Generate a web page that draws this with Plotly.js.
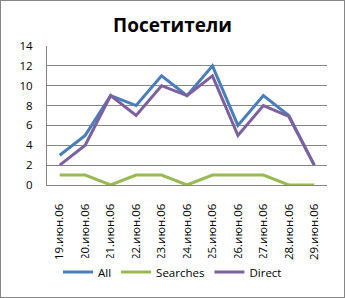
<!DOCTYPE html>
<html><head><meta charset="utf-8">
<script src="https://cdn.plot.ly/plotly-3.0.1.min.js"></script>
<style>
html,body{margin:0;padding:0;background:#fff;}
#frame{position:absolute;left:0;top:0;width:345px;height:298px;box-sizing:border-box;border:1px solid #868686;}
#chart{position:absolute;left:0;top:0;width:345px;height:298px;}
</style></head>
<body>
<div id="chart"></div><div id="frame"></div>
<script>
const categories = ["19.июн.06","20.июн.06","21.июн.06","22.июн.06","23.июн.06","24.июн.06","25.июн.06","26.июн.06","27.июн.06","28.июн.06","29.июн.06"];
const allVisits = [3,5,9,8,11,9,12,6,9,7,2];
const searches = [1,1,0,1,1,0,1,1,1,0,0];
const direct = [2,4,9,7,10,9,11,5,8,6.9,2];
const yTicks = [0,2,4,6,8,10,12,14];

const mk = (name, y, color) => ({type:'scatter', mode:'lines', name, x:categories, y, line:{color, width:3}});
const data = [
  mk('All', allVisits, '#4A7EBB'),
  mk('Searches', searches, '#98B954'),
  mk('Direct', direct, '#7D60A0')
];
const font = {family:'"Open Sans", "Liberation Sans", Arial, sans-serif', size:11.5, color:'#000'};
const layout = {
  width:345, height:298,
  margin:{l:47, r:18, t:46, b:113},
  paper_bgcolor:'#fff', plot_bgcolor:'#fff',
  font,
  title:{text:'<b>Посетители</b>', font:{family:'"Open Sans", "Liberation Sans", sans-serif', size:19, color:'#000'}, x:0.5, xanchor:'center', y:0.915, yanchor:'middle'},
  showlegend:true,
  legend:{orientation:'h', xref:'container', yref:'container', x:0.5, xanchor:'center', y:0.087, yanchor:'middle', font, itemwidth:30},
  xaxis:{type:'category', range:[-0.5,10.5], tickangle:-90, showgrid:false, showline:true, linecolor:'#868686', linewidth:1, ticks:'', tickfont:font, fixedrange:true, automargin:false, ticklabelstandoff:13},
  yaxis:{range:[0,14], tickvals:yTicks, showgrid:true, gridcolor:'#868686', gridwidth:1, showline:true, linecolor:'#868686', ticks:'', tickfont:font, zeroline:false, fixedrange:true, automargin:false, ticklabelstandoff:11}
};
Plotly.newPlot('chart', data, layout, {staticPlot:true, displayModeBar:false});
</script>
</body></html>
